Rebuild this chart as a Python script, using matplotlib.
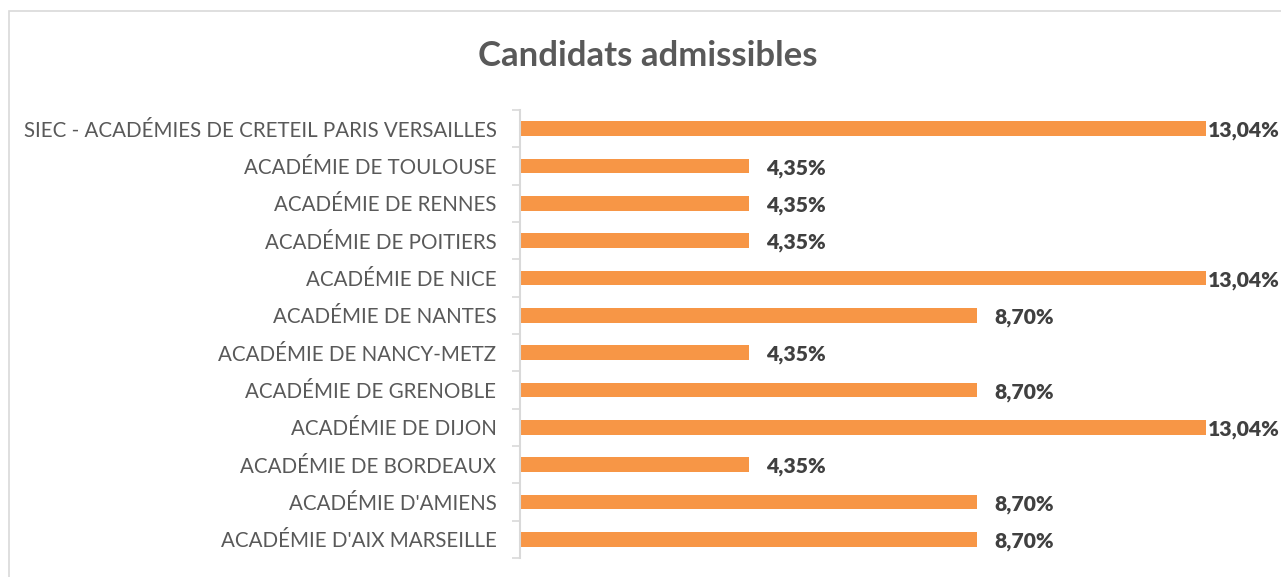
import matplotlib.pyplot as plt
from matplotlib.patches import Rectangle

categories = [
    "SIEC - ACADÉMIES DE CRETEIL PARIS VERSAILLES",
    "ACADÉMIE DE TOULOUSE",
    "ACADÉMIE DE RENNES",
    "ACADÉMIE DE POITIERS",
    "ACADÉMIE DE NICE",
    "ACADÉMIE DE NANTES",
    "ACADÉMIE DE NANCY-METZ",
    "ACADÉMIE DE GRENOBLE",
    "ACADÉMIE DE DIJON",
    "ACADÉMIE DE BORDEAUX",
    "ACADÉMIE D'AMIENS",
    "ACADÉMIE D'AIX MARSEILLE",
]
values = [13.04, 4.35, 4.35, 4.35, 13.04, 8.70, 4.35, 8.70, 13.04, 4.35, 8.70, 8.70]

plt.rcParams['font.family'] = ['Lato', 'DejaVu Sans']

W, H = 1281, 577
fig = plt.figure(figsize=(W / 100, H / 100), dpi=100)

# chart border (cropped on the right and bottom)
fig.patches.append(Rectangle((8.5 / W, -0.1), 1.2, 1 - 10.5 / H + 0.1,
                             transform=fig.transFigure, fill=False,
                             edgecolor='#d9d9d9', linewidth=1.2))

ax = fig.add_axes([520 / W, (H - 558) / H, 736 / W, 448 / H])

pos = list(range(len(categories)))[::-1]
ax.barh(pos, values, height=0.40, color='#F79646')
ax.set_ylim(-0.5, len(categories) - 0.5)
ax.set_xlim(0, 14)

ax.set_yticks(pos)
ax.set_yticklabels(categories, fontsize=14.8, color='#595959')
ax.tick_params(axis='y', which='major', length=0, pad=17)
ax.set_yticks([p + 0.5 for p in range(-1, len(categories))], minor=True)
ax.tick_params(axis='y', which='minor', length=6, color='#d9d9d9', width=1.2)
ax.set_xticks([])

for s in ['top', 'right', 'bottom']:
    ax.spines[s].set_visible(False)
ax.spines['left'].set_color('#d9d9d9')
ax.spines['left'].set_linewidth(1.5)

vmax = max(values)
for p, v in zip(pos, values):
    off = 2 if v == vmax else 12.5
    ax.annotate(f"{v:.2f}%".replace('.', ','), (v, p), xytext=(off, -1.5),
                textcoords='offset points', va='center', ha='left',
                fontsize=15.2, fontweight='heavy', color='#404040')

fig.text(648 / W, 1 - 56 / H, "Candidats admissibles", ha='center', va='center',
         fontsize=25, fontweight='bold', color='#595959')

fig.savefig('out.png', dpi=100)
